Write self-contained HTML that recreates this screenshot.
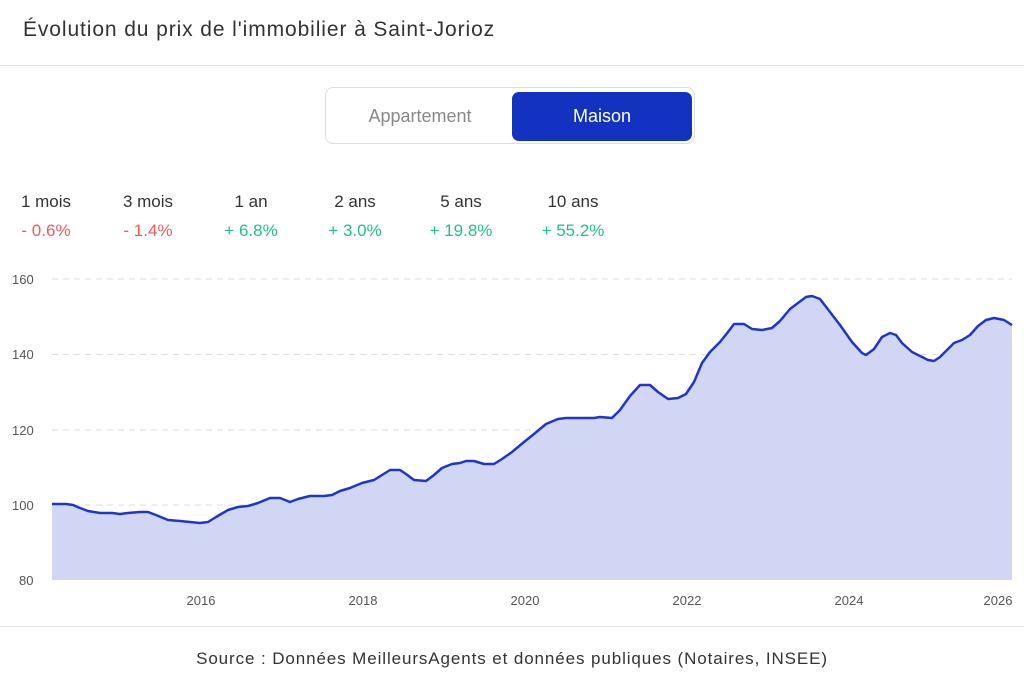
<!DOCTYPE html>
<html><head><meta charset="utf-8"><style>
body{margin:0;width:1024px;height:678px;background:#fff;font-family:"Liberation Sans",sans-serif;color:#333;overflow:hidden;position:relative}
.t{position:absolute;left:23px;top:18px;font-size:21px;color:#333;letter-spacing:0.9px}
.hr{position:absolute;left:0;right:0;height:1px;background:#e2e2e2}
.tog{position:absolute;left:325px;top:87px;width:370px;height:57px;border:1px solid #ddd;border-radius:8px;box-sizing:border-box}
.tog .a{position:absolute;left:0;width:188px;top:0;line-height:57px;text-align:center;font-size:18px;color:#888}
.tog .m{position:absolute;left:186px;top:4px;width:180px;height:49px;background:#1432c0;border-radius:7px;color:#fff;text-align:center;line-height:49px;font-size:18px}
.s{position:absolute;font-size:17px;text-align:center;width:90px}
.s .v{margin-top:9px}
.r{color:#f05a5a}.g{color:#21c08a}
.src{position:absolute;top:649px;left:0;width:1024px;text-align:center;font-size:17px;color:#333;letter-spacing:0.9px}
</style></head><body>
<div class="t">Évolution du prix de l'immobilier à Saint-Jorioz</div>
<div class="hr" style="top:65px"></div>
<div class="tog"><div class="a">Appartement</div><div class="m">Maison</div></div>
<div class="s" style="left:1px;top:192px">1 mois<div class="v r">- 0.6%</div></div>
<div class="s" style="left:103px;top:192px">3 mois<div class="v r">- 1.4%</div></div>
<div class="s" style="left:206px;top:192px">1 an<div class="v g">+ 6.8%</div></div>
<div class="s" style="left:310px;top:192px">2 ans<div class="v g">+ 3.0%</div></div>
<div class="s" style="left:416px;top:192px">5 ans<div class="v g">+ 19.8%</div></div>
<div class="s" style="left:528px;top:192px">10 ans<div class="v g">+ 55.2%</div></div>
<svg style="position:absolute;left:0;top:0" width="1024" height="678">
<g stroke="#ddd" stroke-dasharray="6,5" stroke-width="1">
<line x1="52" x2="1012" y1="279" y2="279"/><line x1="52" x2="1012" y1="354.5" y2="354.5"/><line x1="52" x2="1012" y1="430" y2="430"/><line x1="52" x2="1012" y1="505" y2="505"/></g>
<g font-family="Liberation Sans" font-size="13" fill="#555">
<text x="12" y="284">160</text><text x="12" y="359">140</text><text x="12" y="435">120</text><text x="12" y="510">100</text><text x="19" y="585">80</text>
<g text-anchor="middle"><text x="201" y="605">2016</text><text x="363" y="605">2018</text><text x="525" y="605">2020</text><text x="687" y="605">2022</text><text x="849" y="605">2024</text><text x="998" y="605">2026</text></g></g>
<polygon fill="#d1d6f4" points="52,580 52,504 66,504 73,505 80,508 88,511 100,513 112,513 120,514 128,513 140,512 148,512 156,515 168,520 180,521 190,522 200,523 208,522 216,517 228,510 238,507 248,506 258,503 270,498 280,498 290,502 298,499 310,496 324,496 332,495 340,491 350,488 362,483 374,480 382,475 390,470 400,470 406,474 414,480 426,481 434,475 442,468 452,464 460,463 466,461 474,461 484,464 494,464 502,459 512,452 524,442 534,434 546,424 558,419 566,418 580,418 594,418 600,417 612,418 620,410 630,396 640,385 650,385 658,392 668,399 678,398 686,394 694,382 702,363 710,352 720,342 728,332 734,324 744,324 752,329 762,330 772,328 780,321 790,309 798,303 806,297 812,296 820,299 830,312 840,325 852,342 862,353 866,355 874,349 882,337 890,333 896,335 902,343 912,352 920,356 928,360 934,361 940,357 946,351 954,343 962,340 970,335 978,326 986,320 994,318 1004,320 1012,325 1012,580"/>
<polyline fill="none" stroke="#1f36c8" stroke-width="2.5" stroke-linejoin="round" points="52,504 66,504 73,505 80,508 88,511 100,513 112,513 120,514 128,513 140,512 148,512 156,515 168,520 180,521 190,522 200,523 208,522 216,517 228,510 238,507 248,506 258,503 270,498 280,498 290,502 298,499 310,496 324,496 332,495 340,491 350,488 362,483 374,480 382,475 390,470 400,470 406,474 414,480 426,481 434,475 442,468 452,464 460,463 466,461 474,461 484,464 494,464 502,459 512,452 524,442 534,434 546,424 558,419 566,418 580,418 594,418 600,417 612,418 620,410 630,396 640,385 650,385 658,392 668,399 678,398 686,394 694,382 702,363 710,352 720,342 728,332 734,324 744,324 752,329 762,330 772,328 780,321 790,309 798,303 806,297 812,296 820,299 830,312 840,325 852,342 862,353 866,355 874,349 882,337 890,333 896,335 902,343 912,352 920,356 928,360 934,361 940,357 946,351 954,343 962,340 970,335 978,326 986,320 994,318 1004,320 1012,325"/>
</svg>
<div class="hr" style="top:626px"></div>
<div class="src">Source : Données MeilleursAgents et données publiques (Notaires, INSEE)</div>
</body></html>
